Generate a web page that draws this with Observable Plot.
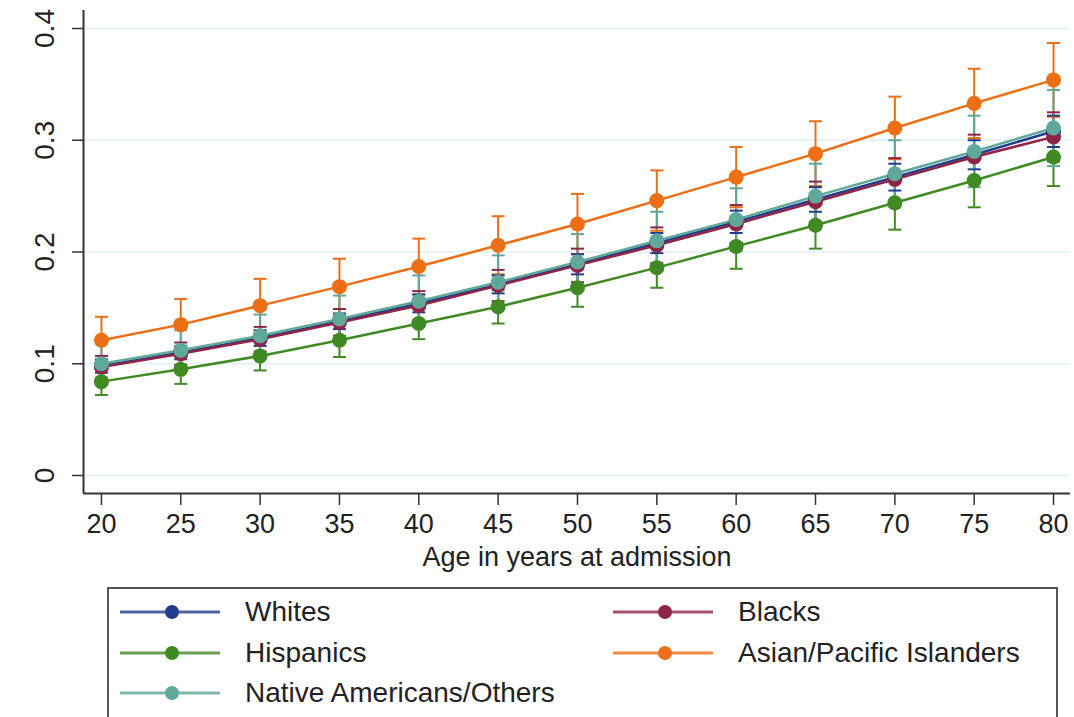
<!DOCTYPE html>
<html><head><meta charset="utf-8">
<script src="https://cdn.jsdelivr.net/npm/d3@7"></script>
<script src="https://cdn.jsdelivr.net/npm/@observablehq/plot@0.6"></script>
<style>
body{margin:0;background:#fff;font-family:"Liberation Sans",Arial,sans-serif;color:#222;}
#page{position:relative;width:1074px;height:717px;overflow:hidden;background:#fff}
#legend{position:absolute;left:107px;top:587px;width:951px;height:170px;border:2px solid #555;box-sizing:border-box;background:#fff}
.item{position:absolute;height:40px;display:flex;align-items:center;font-size:28px;white-space:nowrap}
.item svg{margin-right:25px}
</style></head>
<body><div id="page"><div id="chart"></div><div id="legend"></div></div>
<script>
const ages = [20,25,30,35,40,45,50,55,60,65,70,75,80];
const groups = ["Whites","Blacks","Hispanics","Asian/Pacific Islanders","Native Americans/Others"];
const colors = ["#1f3d8c","#8f2446","#3f8a22","#ec6e15","#5fa89a"];

const whites    = [0.098,0.110,0.123,0.138,0.154,0.171,0.189,0.208,0.227,0.247,0.267,0.287,0.308];
const whitesCI  = [0.006,0.006,0.007,0.007,0.008,0.008,0.009,0.009,0.010,0.011,0.012,0.013,0.014];
const blacks    = [0.097,0.109,0.122,0.137,0.152,0.170,0.188,0.206,0.225,0.245,0.265,0.285,0.303];
const blacksCI  = [0.010,0.010,0.011,0.012,0.013,0.014,0.015,0.016,0.017,0.018,0.019,0.020,0.022];
const hispanics = [0.084,0.095,0.107,0.121,0.136,0.151,0.168,0.186,0.205,0.224,0.244,0.264,0.285];
const hispCI    = [0.012,0.013,0.013,0.015,0.014,0.015,0.017,0.018,0.020,0.021,0.024,0.024,0.026];
const asians    = [0.121,0.135,0.152,0.169,0.187,0.206,0.225,0.246,0.267,0.288,0.311,0.333,0.354];
const asianCI   = [0.021,0.023,0.024,0.025,0.025,0.026,0.027,0.027,0.027,0.029,0.028,0.031,0.033];
const natives   = [0.100,0.112,0.125,0.140,0.156,0.173,0.191,0.210,0.229,0.250,0.270,0.290,0.311];
const nativeCI  = [0.018,0.018,0.019,0.021,0.023,0.024,0.025,0.026,0.028,0.029,0.030,0.032,0.034];

const yTicks = [0,0.1,0.2,0.3,0.4];
const xLabel = "Age in years at admission";

const seriesVals = [whites, blacks, hispanics, asians, natives];
const seriesCI = [whitesCI, blacksCI, hispCI, asianCI, nativeCI];
const rows = [];
groups.forEach((g, k) => ages.forEach((a, i) => rows.push({
  group: g, age: a, value: seriesVals[k][i],
  lo: seriesVals[k][i] - seriesCI[k][i], hi: seriesVals[k][i] + seriesCI[k][i]
})));

const capSymbol = {draw(ctx, size){ const r = Math.sqrt(size/Math.PI); ctx.moveTo(-r,0); ctx.lineTo(r,0); }};
const xDom = [18.87, 81.07], yDom = [-0.0161, 0.4161];

const chart = Plot.plot({
  width: 1074, height: 580,
  marginLeft: 83, marginRight: 4, marginTop: 10, marginBottom: 87,
  x: {domain: xDom, axis: null},
  y: {domain: yDom, axis: null},
  color: {domain: groups, range: colors},
  style: {fontFamily: "'Liberation Sans', Arial, sans-serif", fontSize: "27px", color: "#222", background: "#fff"},
  marks: [
    Plot.ruleY(yTicks, {stroke: "#e4eef0", strokeWidth: 1.5}),
    Plot.ruleX([xDom[0]], {stroke: "#333", strokeWidth: 2}),
    Plot.ruleY([yDom[0]], {stroke: "#333", strokeWidth: 2}),
    Plot.axisY({ticks: yTicks, tickSize: 11, tickFormat: () => "", stroke: "#333", strokeWidth: 1.5}),
    Plot.text(yTicks, {y: d => d, text: d => String(d), frameAnchor: "left", dx: -38, rotate: -90,
      textAnchor: "middle", lineAnchor: "middle", fontSize: 28, fill: "#222"}),
    Plot.axisX({ticks: ages, tickSize: 12, tickPadding: 8, fontSize: 27, label: null, stroke: "#333", strokeWidth: 1.5, fill: "#222"}),
    Plot.text([xLabel], {frameAnchor: "bottom", dy: 64, lineAnchor: "middle", fontSize: 27, fill: "#222"}),
    Plot.ruleX(rows, {x: "age", y1: "lo", y2: "hi", stroke: "group", strokeWidth: 2}),
    Plot.dot(rows, {x: "age", y: "lo", symbol: capSymbol, r: 6.5, stroke: "group", fill: "none", strokeWidth: 2}),
    Plot.dot(rows, {x: "age", y: "hi", symbol: capSymbol, r: 6.5, stroke: "group", fill: "none", strokeWidth: 2}),
    Plot.line(rows, {x: "age", y: "value", z: "group", stroke: "group", strokeWidth: 2.5}),
    Plot.dot(rows, {x: "age", y: "value", fill: "group", r: 7.5})
  ]
});
document.getElementById("chart").appendChild(chart);

// legend
const legendPos = [[120,592],[613,592],[120,633],[613,633],[120,673]];
const page = document.getElementById("page");
groups.forEach((g, k) => {
  const d = document.createElement("div");
  d.className = "item";
  d.style.left = legendPos[k][0] + "px";
  d.style.top = legendPos[k][1] + "px";
  const sw = d3.create("svg").attr("width", 100).attr("height", 20);
  sw.append("line").attr("x1", 0).attr("x2", 100).attr("y1", 10).attr("y2", 10)
    .attr("stroke", colors[k]).attr("stroke-width", 3).attr("opacity", 0.8);
  sw.append("circle").attr("cx", 52).attr("cy", 10).attr("r", 7).attr("fill", colors[k]);
  d.appendChild(sw.node());
  const t = document.createElement("span");
  t.textContent = g;
  d.appendChild(t);
  page.appendChild(d);
});
</script></body></html>
